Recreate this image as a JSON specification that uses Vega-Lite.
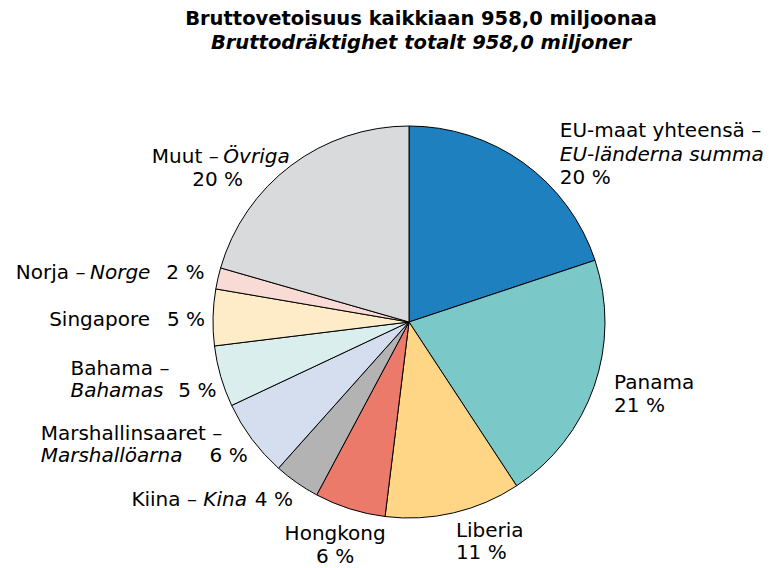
{
  "$schema": "https://vega.github.io/schema/vega-lite/v6.json",
  "autosize": {"type": "none"},
  "padding": {"left": 89, "top": 102, "right": 40, "bottom": 26},
  "width": 640,
  "height": 440,
  "title": {
    "text": "Bruttovetoisuus kaikkiaan 958,0 miljoonaa",
    "subtitle": "Bruttodräktighet totalt 958,0 miljoner",
    "anchor": "middle",
    "dx": 12,
    "offset": 49,
    "font": "DejaVu Sans",
    "fontSize": 19.5,
    "fontWeight": "bold",
    "color": "black",
    "subtitleFont": "DejaVu Sans",
    "subtitleFontSize": 19.5,
    "subtitleFontWeight": "bold",
    "subtitleFontStyle": "italic",
    "subtitleColor": "black",
    "subtitlePadding": 4
  },
  "data": {
    "values": [
      {"i": 1, "k": "EU", "v": 19.9, "fi": "EU-maat yhteensä –", "sv": "EU-länderna summa", "p": "20 %"},
      {"i": 2, "k": "Panama", "v": 20.85, "fi": "Panama", "sv": "", "p": "21 %"},
      {"i": 3, "k": "Liberia", "v": 11.2, "fi": "Liberia", "sv": "", "p": "11 %"},
      {"i": 4, "k": "Hongkong", "v": 5.85, "fi": "Hongkong", "sv": "", "p": "6 %"},
      {"i": 5, "k": "Kiina", "v": 3.8, "fi": "Kiina –", "sv": "Kina", "p": "4 %"},
      {"i": 6, "k": "Marshall", "v": 6.4, "fi": "Marshallinsaaret –", "sv": "Marshallöarna", "p": "6 %"},
      {"i": 7, "k": "Bahama", "v": 5.05, "fi": "Bahama –", "sv": "Bahamas", "p": "5 %"},
      {"i": 8, "k": "Singapore", "v": 4.65, "fi": "Singapore", "sv": "", "p": "5 %"},
      {"i": 9, "k": "Norja", "v": 1.75, "fi": "Norja –", "sv": "Norge", "p": "2 %"},
      {"i": 10, "k": "Muut", "v": 20.55, "fi": "Muut –", "sv": "Övriga", "p": "20 %"}
    ]
  },
  "encoding": {
    "theta": {"field": "v", "type": "quantitative", "stack": true},
    "order": {"field": "i", "type": "quantitative"}
  },
  "layer": [
    {
      "mark": {"type": "arc", "outerRadius": 196, "stroke": "black", "strokeWidth": 1},
      "encoding": {
        "color": {
          "field": "k", "type": "nominal", "legend": null,
          "scale": {
            "domain": ["EU", "Panama", "Liberia", "Hongkong", "Kiina", "Marshall", "Bahama", "Singapore", "Norja", "Muut"],
            "range": ["#1f80c0", "#7ac8c8", "#fed686", "#ec7a6b", "#b3b3b3", "#d5deef", "#d9eeed", "#feebc8", "#f9dbd6", "#d9dadc"]
          }
        }
      }
    },
    {"mark": {"type": "text", "align": "left", "dx": 25, "dy": -17}, "encoding": {"text": {"condition": {"test": "datum.k==='EU'", "field": "fi", "type": "nominal"}, "value": ""}}},
    {"mark": {"type": "text", "align": "left", "dx": 25, "dy": 7, "fontStyle": "italic"}, "encoding": {"text": {"condition": {"test": "datum.k==='EU'", "field": "sv", "type": "nominal"}, "value": ""}}},
    {"mark": {"type": "text", "align": "left", "dx": 25, "dy": 30}, "encoding": {"text": {"condition": {"test": "datum.k==='EU'", "field": "p", "type": "nominal"}, "value": ""}}},

    {"mark": {"type": "text", "align": "left", "dx": 2, "dy": -10}, "encoding": {"text": {"condition": {"test": "datum.k==='Panama'", "field": "fi", "type": "nominal"}, "value": ""}}},
    {"mark": {"type": "text", "align": "left", "dx": 2, "dy": 13}, "encoding": {"text": {"condition": {"test": "datum.k==='Panama'", "field": "p", "type": "nominal"}, "value": ""}}},

    {"mark": {"type": "text", "align": "left", "dx": -2, "dy": 0}, "encoding": {"text": {"condition": {"test": "datum.k==='Liberia'", "field": "fi", "type": "nominal"}, "value": ""}}},
    {"mark": {"type": "text", "align": "left", "dx": -2, "dy": 22}, "encoding": {"text": {"condition": {"test": "datum.k==='Liberia'", "field": "p", "type": "nominal"}, "value": ""}}},

    {"mark": {"type": "text", "align": "center", "dx": -9, "dy": 7}, "encoding": {"text": {"condition": {"test": "datum.k==='Hongkong'", "field": "fi", "type": "nominal"}, "value": ""}}},
    {"mark": {"type": "text", "align": "center", "dx": -9, "dy": 30}, "encoding": {"text": {"condition": {"test": "datum.k==='Hongkong'", "field": "p", "type": "nominal"}, "value": ""}}},

    {"mark": {"type": "text", "align": "right", "dx": 7, "dy": 2}, "encoding": {"text": {"condition": {"test": "datum.k==='Kiina'", "field": "p", "type": "nominal"}, "value": ""}}},
    {"mark": {"type": "text", "align": "right", "dx": -39, "dy": 2, "fontStyle": "italic"}, "encoding": {"text": {"condition": {"test": "datum.k==='Kiina'", "field": "sv", "type": "nominal"}, "value": ""}}},
    {"mark": {"type": "text", "align": "right", "dx": -89, "dy": 2}, "encoding": {"text": {"condition": {"test": "datum.k==='Kiina'", "field": "fi", "type": "nominal"}, "value": ""}}},

    {"mark": {"type": "text", "align": "left", "dx": -196, "dy": -17}, "encoding": {"text": {"condition": {"test": "datum.k==='Marshall'", "field": "fi", "type": "nominal"}, "value": ""}}},
    {"mark": {"type": "text", "align": "left", "dx": -196, "dy": 5.5, "fontStyle": "italic"}, "encoding": {"text": {"condition": {"test": "datum.k==='Marshall'", "field": "sv", "type": "nominal"}, "value": ""}}},
    {"mark": {"type": "text", "align": "right", "dx": 11, "dy": 5.5}, "encoding": {"text": {"condition": {"test": "datum.k==='Marshall'", "field": "p", "type": "nominal"}, "value": ""}}},

    {"mark": {"type": "text", "align": "left", "dx": -132, "dy": -13}, "encoding": {"text": {"condition": {"test": "datum.k==='Bahama'", "field": "fi", "type": "nominal"}, "value": ""}}},
    {"mark": {"type": "text", "align": "left", "dx": -132, "dy": 9, "fontStyle": "italic"}, "encoding": {"text": {"condition": {"test": "datum.k==='Bahama'", "field": "sv", "type": "nominal"}, "value": ""}}},
    {"mark": {"type": "text", "align": "right", "dx": 14, "dy": 9}, "encoding": {"text": {"condition": {"test": "datum.k==='Bahama'", "field": "p", "type": "nominal"}, "value": ""}}},

    {"mark": {"type": "text", "align": "right", "dx": 11, "dy": 3}, "encoding": {"text": {"condition": {"test": "datum.k==='Singapore'", "field": "p", "type": "nominal"}, "value": ""}}},
    {"mark": {"type": "text", "align": "right", "dx": -44, "dy": 3}, "encoding": {"text": {"condition": {"test": "datum.k==='Singapore'", "field": "fi", "type": "nominal"}, "value": ""}}},

    {"mark": {"type": "text", "align": "right", "dx": 5, "dy": -1}, "encoding": {"text": {"condition": {"test": "datum.k==='Norja'", "field": "p", "type": "nominal"}, "value": ""}}},
    {"mark": {"type": "text", "align": "right", "dx": -49, "dy": -1, "fontStyle": "italic"}, "encoding": {"text": {"condition": {"test": "datum.k==='Norja'", "field": "sv", "type": "nominal"}, "value": ""}}},
    {"mark": {"type": "text", "align": "right", "dx": -114, "dy": -1}, "encoding": {"text": {"condition": {"test": "datum.k==='Norja'", "field": "fi", "type": "nominal"}, "value": ""}}},

    {"mark": {"type": "text", "align": "right", "dx": 10, "dy": 7, "fontStyle": "italic"}, "encoding": {"text": {"condition": {"test": "datum.k==='Muut'", "field": "sv", "type": "nominal"}, "value": ""}}},
    {"mark": {"type": "text", "align": "right", "dx": -61, "dy": 7}, "encoding": {"text": {"condition": {"test": "datum.k==='Muut'", "field": "fi", "type": "nominal"}, "value": ""}}},
    {"mark": {"type": "text", "align": "center", "dx": -62, "dy": 30}, "encoding": {"text": {"condition": {"test": "datum.k==='Muut'", "field": "p", "type": "nominal"}, "value": ""}}}
  ],
  "config": {
    "view": {"stroke": null},
    "text": {"font": "DejaVu Sans", "fontSize": 20, "baseline": "middle", "radius": 215, "color": "black"}
  }
}
